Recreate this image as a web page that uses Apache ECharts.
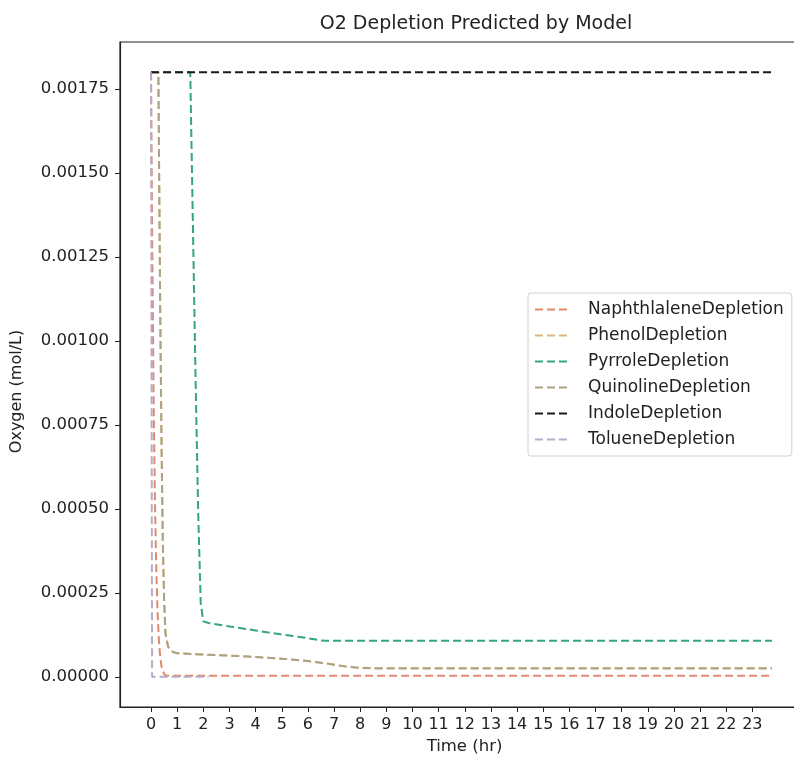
<!DOCTYPE html>
<html>
<head>
<meta charset="utf-8">
<script src="https://cdn.jsdelivr.net/npm/echarts@6/dist/echarts.min.js"></script>
<style>
  html, body { margin: 0; padding: 0; background: #fff; overflow: hidden; }
  #chart { width: 803px; height: 763px; }
</style>
</head>
<body>
<div id="chart"></div>
<script>
// Predicted dissolved oxygen (mol/L) over time (hr) for each compound
const naphthaleneTime = [0, 0.02, 0.05, 0.1, 0.15, 0.2, 0.25, 0.3, 0.35, 0.4, 0.5, 0.6, 23.75];
const naphthaleneO2   = [0.0018, 0.00155, 0.00125, 0.00082, 0.00052, 0.00032, 0.00019, 0.00011, 0.00006, 0.00003, 0.000008, 0.000003, 0.000003];

const phenolTime = [0, 0.28, 0.3, 0.35, 0.4, 0.45, 0.5, 0.55, 0.65, 0.75, 0.9, 1, 2, 3, 4, 5, 6, 6.5, 7, 7.5, 8, 8.5, 23.75];
const phenolO2   = [0.0018, 0.0018, 0.0016, 0.0011, 0.0007, 0.0004, 0.00023, 0.00013, 0.00009, 0.000078, 0.000072, 0.00007, 0.000066, 0.000063, 0.000059, 0.000054, 0.000047, 0.000042, 0.000036, 0.00003, 0.000027, 0.000026, 0.000026];

const pyrroleTime = [0, 1.5, 1.6, 1.7, 1.8, 1.9, 2.0, 2.2, 2.6, 3, 4, 4.55, 5, 6, 6.5, 6.7, 23.75];
const pyrroleO2   = [0.0018, 0.0018, 0.00135, 0.0009, 0.0005, 0.00022, 0.000165, 0.00016, 0.000155, 0.00015, 0.000138, 0.000131, 0.000126, 0.000115, 0.000108, 0.000107, 0.000107];

const quinolineTime = [0, 0.28, 0.3, 0.35, 0.4, 0.45, 0.5, 0.55, 0.65, 0.75, 0.9, 1, 2, 3, 4, 5, 6, 6.5, 7, 7.5, 8, 8.5, 23.75];
const quinolineO2   = [0.0018, 0.0018, 0.0016, 0.0011, 0.0007, 0.0004, 0.00023, 0.00013, 0.00009, 0.000078, 0.000072, 0.00007, 0.000066, 0.000063, 0.000059, 0.000054, 0.000047, 0.000042, 0.000036, 0.00003, 0.000026, 0.000025, 0.000025];

const indoleTime = [0, 23.75];
const indoleO2   = [0.0018, 0.0018];

const tolueneTime = [0, 0.04, 2.2];
const tolueneO2   = [0.0018, 0, 0];

// Tick positions
const hourTicks = [];
for (let h = 0; h <= 23; h++) hourTicks.push(h);
const o2Ticks = [0, 0.00025, 0.0005, 0.00075, 0.001, 0.00125, 0.0015, 0.00175];

const seriesDefs = [
  { name: 'NaphthlaleneDepletion', t: naphthaleneTime, v: naphthaleneO2, color: '#e08a6c' },
  { name: 'PhenolDepletion',       t: phenolTime,      v: phenolO2,      color: '#d8bb80' },
  { name: 'PyrroleDepletion',      t: pyrroleTime,     v: pyrroleO2,     color: '#35a385' },
  { name: 'QuinolineDepletion',    t: quinolineTime,   v: quinolineO2,   color: '#ada284' },
  { name: 'IndoleDepletion',       t: indoleTime,      v: indoleO2,      color: '#1a1a1a' },
  { name: 'TolueneDepletion',      t: tolueneTime,     v: tolueneO2,     color: '#b5adc8' }
];

const FONT = 'DejaVu Sans';
const TXT = '#222';
const chart = echarts.init(document.getElementById('chart'), null, { renderer: 'canvas' });

chart.setOption({
  backgroundColor: '#ffffff',
  animation: false,
  textStyle: { fontFamily: FONT },
  title: {
    text: 'O2 Depletion Predicted by Model',
    left: 471,
    top: 10,
    textAlign: 'center',
    textStyle: { fontFamily: FONT, fontSize: 19, fontWeight: 'normal', color: TXT }
  },
  grid: {
    left: 120, right: 0, top: 42, bottom: 56,
    show: true, borderColor: '#222', borderWidth: 1.2, backgroundColor: 'transparent'
  },
  legend: {
    orient: 'vertical',
    left: 528, top: 293,
    padding: [8, 8, 8, 6],
    itemGap: 9,
    itemWidth: 36, itemHeight: 14,
    backgroundColor: '#fff',
    borderColor: '#d0d0d0', borderWidth: 1, borderRadius: 3,
    itemStyle: { color: 'rgba(0,0,0,0)', borderWidth: 0 },
    textStyle: { fontFamily: FONT, fontSize: 17, color: TXT, padding: [0, 0, 0, 12] },
    data: seriesDefs.map(s => s.name)
  },
  xAxis: {
    type: 'value',
    min: -1.1875, max: 24.9375,
    name: 'Time (hr)',
    nameLocation: 'middle',
    nameGap: 30,
    nameTextStyle: { fontFamily: FONT, fontSize: 16.5, color: TXT, padding: [0, 0, 0, 6] },
    axisLine: { show: true, onZero: false, lineStyle: { color: '#222', width: 1.2 } },
    axisTick: { show: true, length: 5, customValues: hourTicks, lineStyle: { color: '#222' } },
    axisLabel: { customValues: hourTicks, fontFamily: FONT, fontSize: 16, color: TXT, margin: 10 },
    splitLine: { show: false }
  },
  yAxis: {
    type: 'value',
    min: -0.00009, max: 0.00189,
    name: 'Oxygen (mol/L)',
    nameLocation: 'middle',
    nameGap: 95,
    nameRotate: 90,
    nameTextStyle: { fontFamily: FONT, fontSize: 16, color: TXT, padding: [0, 34, 0, 0] },
    axisLine: { show: true, onZero: false, lineStyle: { color: '#222', width: 1.2 } },
    axisTick: { show: true, length: 5, customValues: o2Ticks, lineStyle: { color: '#222' } },
    axisLabel: {
      customValues: o2Ticks, fontFamily: FONT, fontSize: 16.5, color: TXT, margin: 11,
      formatter: v => v.toFixed(5)
    },
    splitLine: { show: false }
  },
  series: seriesDefs.map(s => ({
    name: s.name,
    type: 'line',
    showSymbol: false,
    symbol: 'none',
    color: s.color,
    lineStyle: { color: s.color, width: 2, type: [8, 4] },
    data: s.t.map((t, i) => [t, s.v[i]])
  }))
});
</script>
</body>
</html>
